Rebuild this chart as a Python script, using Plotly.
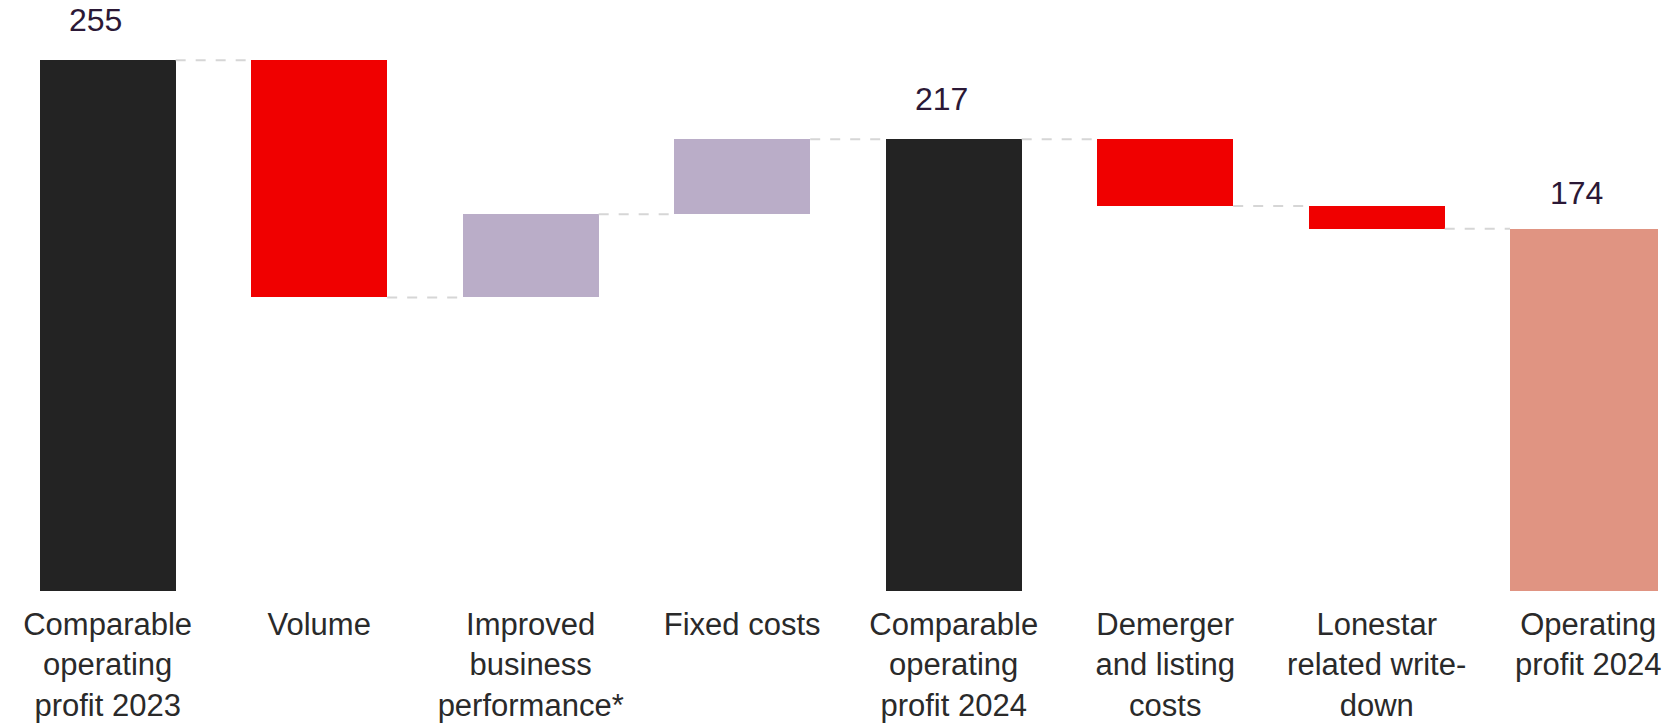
import plotly.graph_objects as go

# Bridge from comparable operating profit 2023 to operating profit 2024
categories = [
    "Comparable<br>operating<br>profit 2023",
    "Volume",
    "Improved<br>business<br>performance*",
    "Fixed costs",
    "Comparable<br>operating<br>profit 2024",
    "Demerger<br>and listing<br>costs",
    "Lonestar<br>related write-<br>down",
    "Operating<br>profit 2024",
]
measures = ["absolute", "relative", "relative", "relative",
            "total", "relative", "relative", "total"]
values = [255, -114, 40, 36, 217, -32, -11, 174]

DARK = "#232323"
RED = "#F00000"
LILAC = "#BAADC8"
SALMON = "#E09482"
LABEL_COLOR = "#2B1836"
TEXT_COLOR = "#2A2A2A"

# Work out the floating base and height of every bar from the running level
bases, heights, colors, levels = [], [], [], []
level = 0
for m, v in zip(measures, values):
    if m in ("absolute", "total"):
        level = v
        bases.append(0)
        heights.append(v)
        colors.append(DARK)
    else:
        start = level
        level = level + v
        bases.append(min(start, level))
        heights.append(abs(v))
        colors.append(RED if v < 0 else LILAC)
    levels.append(level)
colors[-1] = SALMON

n = len(categories)
xs = list(range(n))
widths = [0.643] * (n - 1) + [0.70]
offsets = [-w / 2 for w in widths[:-1]] + [-0.37]

fig = go.Figure()

# Dashed connectors between consecutive bars
cx, cy = [], []
for i in range(n - 1):
    cx += [xs[i] + offsets[i] + widths[i], xs[i + 1] + offsets[i + 1], None]
    cy += [levels[i], levels[i], None]
fig.add_trace(go.Scatter(
    x=cx, y=cy, mode="lines",
    line=dict(color="#D6D6D6", width=2, dash="10px,10px"),
    hoverinfo="skip", showlegend=False,
))

fig.add_trace(go.Bar(
    x=xs, y=heights, base=bases,
    width=widths, offset=offsets,
    marker=dict(color=colors, line=dict(width=0)),
    showlegend=False,
))

# Value labels above the total bars
label_lift = {0: 20, 4: 20, 7: 16}
for i, (m, v) in enumerate(zip(measures, values)):
    if m in ("absolute", "total"):
        fig.add_annotation(
            x=xs[i], y=v, text=str(v), showarrow=False,
            yanchor="bottom", xanchor="center", xshift=-12, yshift=label_lift[i],
            font=dict(family="Liberation Sans, Arial, sans-serif", size=32, color=LABEL_COLOR),
        )

fig.update_layout(
    width=1665, height=724,
    margin=dict(l=0, r=0, t=0, b=133),
    plot_bgcolor="white", paper_bgcolor="white",
    bargap=0,
    xaxis=dict(
        range=[-0.509, 7.363],
        tickmode="array", tickvals=xs, ticktext=categories,
        showgrid=False, zeroline=False, showline=False, ticks="",
        ticklabelstandoff=12,
        tickfont=dict(family="Liberation Sans, Arial, sans-serif", size=31, color=TEXT_COLOR),
    ),
    yaxis=dict(
        range=[0, 283.9], visible=False, showgrid=False, zeroline=False,
    ),
)

fig.write_html("out.html")
